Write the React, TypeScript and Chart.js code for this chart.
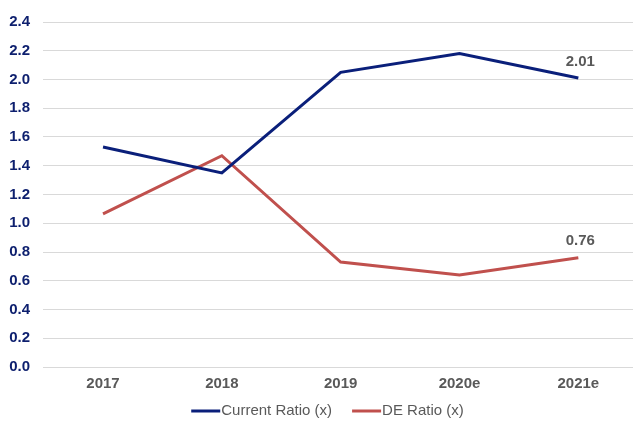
import React, { useEffect, useRef } from "react";
import { Chart, registerables } from "chart.js";

Chart.register(...registerables);

const categories = ["2017", "2018", "2019", "2020e", "2021e"];
const currentRatio = [1.53, 1.35, 2.05, 2.18, 2.01];
const deRatio = [1.065, 1.47, 0.73, 0.64, 0.76];
const yTicks = [0, 0.2, 0.4, 0.6, 0.8, 1.0, 1.2, 1.4, 1.6, 1.8, 2.0, 2.2, 2.4];

const FONT = "'Liberation Sans', Arial, sans-serif";

const lastLabelPlugin = {
  id: "lastLabel",
  afterDatasetsDraw(chart: any) {
    const ctx = chart.ctx;
    ctx.save();
    ctx.font = "bold 15px " + FONT;
    ctx.fillStyle = "#595959";
    ctx.textAlign = "center";
    ctx.textBaseline = "bottom";
    chart.data.datasets.forEach((ds: any, i: number) => {
      const meta = chart.getDatasetMeta(i);
      const n = ds.data.length - 1;
      const pt = meta.data[n];
      if (!pt) return;
      ctx.fillText(Number(ds.data[n].y).toFixed(2), pt.x + 2, pt.y - 9);
    });
    ctx.restore();
  },
};

const customLegendPlugin = {
  id: "customLegend",
  afterDraw(chart: any) {
    const ctx = chart.ctx;
    ctx.save();
    ctx.font = "15px " + FONT;
    const lineW = 29;
    const gapLT = 1;
    const gapItems = 20;
    const items = chart.data.datasets.map((ds: any) => ({
      text: ds.label,
      color: ds.borderColor,
      w: lineW + gapLT + ctx.measureText(ds.label).width,
    }));
    const total = items.reduce((s: number, it: any) => s + it.w, 0) + gapItems * (items.length - 1);
    let x = 327.5 - total / 2;
    const y = 411;
    items.forEach((it: any) => {
      ctx.strokeStyle = it.color;
      ctx.lineWidth = 3;
      ctx.beginPath();
      ctx.moveTo(x, y);
      ctx.lineTo(x + lineW, y);
      ctx.stroke();
      ctx.fillStyle = "#595959";
      ctx.textAlign = "left";
      ctx.textBaseline = "middle";
      ctx.fillText(it.text, x + lineW + gapLT, y);
      x += it.w + gapItems;
    });
    ctx.restore();
  },
};

export default function App() {
  const ref = useRef<HTMLCanvasElement>(null);
  useEffect(() => {
    document.body.style.margin = "0";
    const toPts = (arr: number[]) => arr.map((y, i) => ({ x: i, y }));
    const chart = new Chart(ref.current!, {
      type: "line",
      data: {
        datasets: [
          {
            label: "Current Ratio (x)",
            data: toPts(currentRatio),
            borderColor: "#0A1F7A",
            backgroundColor: "#0A1F7A",
            borderWidth: 3,
            pointRadius: 0,
            tension: 0,
          },
          {
            label: "DE Ratio (x)",
            data: toPts(deRatio),
            borderColor: "#C0504D",
            backgroundColor: "#C0504D",
            borderWidth: 3,
            pointRadius: 0,
            tension: 0,
          },
        ],
      },
      options: {
        animation: false,
        responsive: false,
        layout: { padding: { top: 13, right: 1, left: 8, bottom: 25 } },
        plugins: {
          legend: { display: false },
          tooltip: { enabled: false },
        },
        scales: {
          x: {
            type: "linear",
            min: -0.505,
            max: 4.46,
            afterBuildTicks: (axis: any) => {
              axis.ticks = categories.map((_, i) => ({ value: i }));
            },
            afterFit: (axis: any) => {
              axis.height = 31;
            },
            grid: { display: false },
            border: { display: false },
            ticks: {
              color: "#595959",
              font: { family: FONT, size: 15, weight: "bold" },
              padding: 0,
              maxRotation: 0,
              callback: (v: any) => categories[Math.round(Number(v))],
            },
          },
          y: {
            min: 0,
            max: 2.4,
            afterBuildTicks: (axis: any) => {
              axis.ticks = yTicks.map((v) => ({ value: v }));
            },
            afterFit: (axis: any) => {
              axis.width = 35;
            },
            grid: { color: "#D9D9D9", lineWidth: 1, drawTicks: false },
            border: { display: false },
            ticks: {
              color: "#0D1F6E",
              font: { family: FONT, size: 15, weight: "bold" },
              padding: 13,
              callback: (v: any) => Number(v).toFixed(1),
            },
          },
        },
      },
      plugins: [lastLabelPlugin, customLegendPlugin],
    });
    return () => chart.destroy();
  }, []);
  return <canvas ref={ref} width={634} height={423} style={{ display: "block" }} />;
}
